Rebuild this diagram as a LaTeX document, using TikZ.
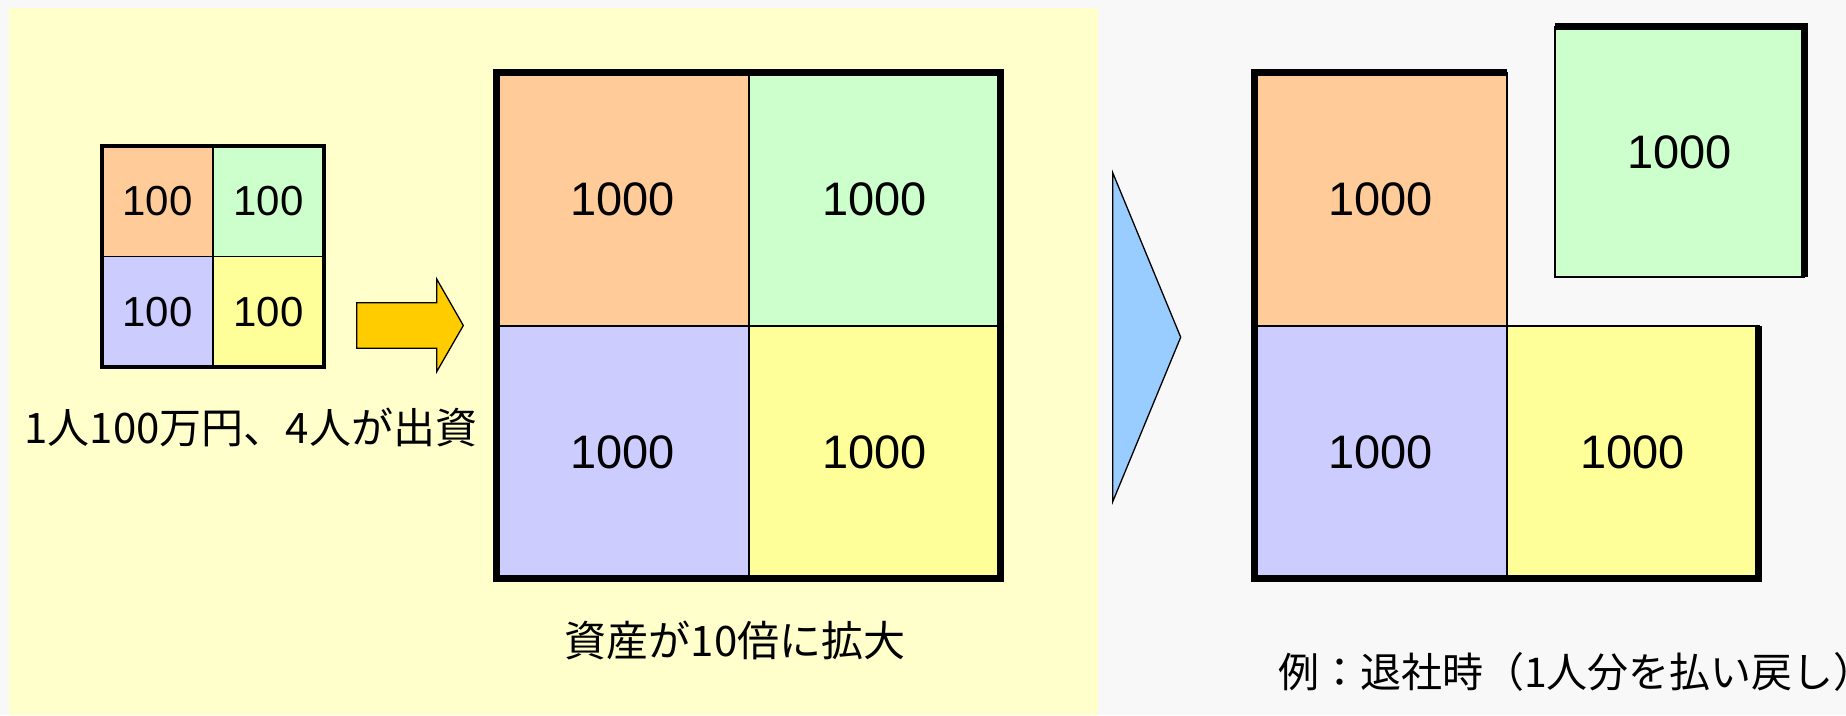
\documentclass[tikz,border=0pt]{standalone}
\usepackage{fontspec}
\setmainfont{Liberation Sans}
\newfontfamily\jp{Noto Sans CJK JP}
\definecolor{bgc}{HTML}{F8F8F8}
\definecolor{panel}{HTML}{FFFFCC}
\definecolor{corange}{HTML}{FFCC99}
\definecolor{cgreen}{HTML}{CCFFCC}
\definecolor{cblue}{HTML}{CCCCFF}
\definecolor{cyellow}{HTML}{FFFF99}
\definecolor{arrowyellow}{HTML}{FFCC00}
\definecolor{arrowblue}{HTML}{99CCFF}
\begin{document}
\begin{tikzpicture}[x=1pt,y=-1pt,
  cellS/.style={rectangle, draw=black, line width=1.3pt, outer sep=0pt, inner sep=0pt,
    minimum width=111pt, minimum height=110.5pt, font=\fontsize{42}{50}\selectfont},
  cellB/.style={rectangle, draw=black, line width=2pt, outer sep=0pt, inner sep=0pt,
    minimum width=252pt, minimum height=253pt, font=\fontsize{47}{56}\selectfont},
  thickS/.style={draw=black, line width=4pt},
  thickB/.style={draw=black, line width=7pt},
  shapeline/.style={draw=black, line width=1.3pt, line join=miter},
  caption/.style={inner sep=0pt, outer sep=0pt}
]
% background
\useasboundingbox (0,0) rectangle (1846,715);
\fill[bgc] (0,0) rectangle (1846,715);
\fill[panel] (9.3,8.3) rectangle (1098,715);

% small grid
\node[cellS, fill=corange] (s1) at (157.5,201.25) {100};
\node[cellS, fill=cgreen]  (s2) at (268.5,201.25) {100};
\node[cellS, fill=cblue]   (s3) at (157.5,311.75) {100};
\node[cellS, fill=cyellow] (s4) at (268.5,311.75) {100};
\draw[thickS] (s1.north west) rectangle (s4.south east);

\node[caption, font=\jp\fontsize{42}{50}\selectfont] (cap1) at (250.8,427) {1人100万円、4人が出資};

% yellow arrow
\filldraw[shapeline, fill=arrowyellow]
  (356.7,302.7) -- (436.7,302.7) -- (436.7,279) -- (463.3,325.5)
  -- (436.7,371.7) -- (436.7,348.3) -- (356.7,348.3) -- cycle;

% big grid
\node[cellB, fill=corange] (b1) at (622.7,199) {1000};
\node[cellB, fill=cgreen]  (b2) at (874.7,199) {1000};
\node[cellB, fill=cblue]   (b3) at (622.7,452) {1000};
\node[cellB, fill=cyellow] (b4) at (874.7,452) {1000};
\draw[thickB] (b1.north west) rectangle (b4.south east);

\node[caption, font=\jp\fontsize{42}{50}\selectfont] (cap2) at (735,640) {資産が10倍に拡大};

% blue triangle
\filldraw[shapeline, fill=arrowblue]
  (1112.7,172.7) -- (1180.7,337.2) -- (1112.7,501.7) -- cycle;

% right side
\node[cellB, fill=corange] (r1) at (1380.5,199) {1000};
\node[cellB, fill=cblue]   (r3) at (1380.5,452) {1000};
\node[cellB, fill=cyellow] (r4) at (1632.5,452) {1000};
\draw[thickB] (r1.north east) -- (r1.north west) -- (r3.south west)
  -- (r4.south east) -- (r4.north east);

\node[cellB, fill=cgreen, minimum width=249pt, minimum height=250.3pt] (g) at (1679.5,151.85) {1000};
\draw[thickB] (g.north west) -- (g.north east) -- (g.south east);

\node[caption, anchor=west, font=\jp\fontsize{41}{49}\selectfont] (cap3) at (1278,672) {例：退社時（1人分を払い戻し）};
\end{tikzpicture}
\end{document}
